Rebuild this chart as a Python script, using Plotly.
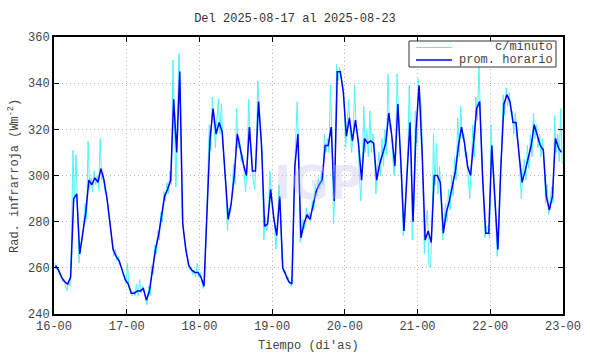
import plotly.graph_objects as go

# ---------------- data ----------------
title_text = "Del 2025-08-17 al 2025-08-23"
x_title = "Tiempo (di'as)"
y_title = "Rad. infrarroja (Wm<sup>-2</sup>)"
x_tick_hours = [0, 24, 48, 72, 96, 120, 144, 168]
x_tick_labels = ["16-00", "17-00", "18-00", "19-00", "20-00", "21-00", "22-00", "23-00"]
y_ticks = [240, 260, 280, 300, 320, 340, 360]

# hourly average (one value per hour, starting 2025-08-16 00:00)
hourly = [
    261, 259, 256, 254, 253, 256, 290, 292, 266, 274,
    284, 298, 296, 299, 297, 303, 298, 290, 279, 268,
    265, 263, 259, 255, 253, 249, 249, 250, 250, 251,
    246, 250, 259, 268, 274, 282, 291, 294, 298, 333,
    310, 345, 279, 268, 261, 259, 258, 258, 256, 252,
    288, 316, 329, 318, 323, 319, 300, 281, 288, 300,
    318, 311, 305, 300, 321, 302, 302, 332, 313, 278,
    279, 294, 282, 274, 291, 260, 257, 254, 253, 304,
    318, 273, 279, 283, 281, 287, 293, 296, 298, 313,
    313, 321, 289, 345, 345, 336, 317, 325, 315, 324,
    314, 298, 316, 314, 315, 314, 298, 305, 310, 314,
    327, 317, 304, 331, 305, 276, 300, 323, 280, 320,
    339, 310, 272, 276, 271, 300, 300, 297, 275, 284,
    289, 295, 302, 313, 321, 314, 304, 300, 313, 329,
    332, 298, 275, 275, 313, 288, 268, 304, 331, 335,
    332, 323, 323, 309, 297, 302, 308, 313, 322, 317,
    313, 311, 291, 285, 291, 316, 312, 310,
]

# per-minute series, read as two samples per hour
minute = [
    262, 259, 260, 257, 257, 254, 255, 252, 250, 254,
    252, 270, 311, 289, 309, 287, 262, 270, 272, 278,
    288, 281, 315, 294, 299, 293, 302, 296, 300, 294,
    316, 298, 301, 293, 292, 287, 281, 276, 270, 265,
    268, 263, 265, 261, 261, 257, 256, 253, 262, 251,
    251, 248, 250, 248, 253, 248, 255, 249, 252, 249,
    247, 244, 252, 248, 261, 257, 270, 266, 276, 272,
    284, 280, 293, 289, 297, 292, 302, 296, 350, 318,
    295, 326, 353, 335, 283, 276, 270, 266, 262, 259,
    260, 257, 259, 256, 262, 256, 258, 255, 251, 254,
    275, 300, 322, 311, 334, 324, 312, 324, 333, 318,
    331, 314, 306, 295, 276, 286, 284, 292, 305, 296,
    329, 312, 316, 306, 309, 301, 293, 304, 333, 316,
    306, 298, 294, 310, 341, 328, 318, 308, 272, 282,
    276, 283, 302, 290, 286, 279, 268, 278, 296, 287,
    263, 258, 259, 255, 256, 253, 252, 256, 296, 312,
    332, 313, 271, 276, 281, 277, 286, 281, 284, 280,
    289, 285, 296, 291, 299, 294, 302, 296, 318, 310,
    316, 310, 339, 318, 279, 294, 348, 341, 347, 342,
    340, 332, 312, 322, 333, 320, 310, 319, 339, 319,
    318, 302, 289, 304, 330, 310, 320, 308, 328, 310,
    318, 309, 292, 303, 310, 300, 316, 304, 320, 309,
    344, 320, 322, 309, 300, 310, 344, 324, 312, 298,
    274, 281, 296, 308, 339, 316, 272, 286, 328, 314,
    342, 334, 330, 300, 266, 280, 285, 261, 260, 276,
    318, 296, 314, 292, 304, 290, 272, 280, 288, 280,
    294, 285, 300, 291, 308, 298, 325, 308, 330, 316,
    318, 308, 310, 298, 290, 306, 322, 308, 334, 324,
    348, 326, 305, 290, 273, 278, 277, 273, 322, 306,
    295, 282, 265, 272, 298, 312, 335, 326, 338, 330,
    336, 328, 328, 318, 327, 316, 314, 302, 290, 302,
    307, 298, 313, 303, 318, 308, 327, 316, 322, 312,
    318, 308, 316, 306, 288, 296, 283, 289, 295, 288,
    326, 310, 318, 306, 329, 305,
]

hourly_t = [i + 0.5 for i in range(len(hourly))]
minute_t = [i * 0.5 + 0.25 for i in range(len(minute))]

FONT = "Liberation Mono, Courier New, monospace"
TXT = "#444444"
CYAN = "#4ef4fb"
W, H = 590, 354
L, R, T, B = 54, 563, 37, 314


def px(x):
    return (x - L) / (R - L)


def py(y):
    return (B - y) / (B - T)


fig = go.Figure()
fig.add_trace(go.Scatter(x=minute_t, y=minute, mode="lines", name="c/minuto",
                         line=dict(color=CYAN, width=1), showlegend=False))
fig.add_trace(go.Scatter(x=hourly_t, y=hourly, mode="lines", name="prom. horario",
                         line=dict(color="#0000ff", width=1.5), showlegend=False))

axis_common = dict(showline=True, linecolor="black", linewidth=2, mirror="ticks",
                   ticks="inside", ticklen=5, tickcolor="black", tickwidth=1,
                   showgrid=True, gridcolor="#b8b8b8", griddash="1px,3px", gridwidth=1,
                   zeroline=False, automargin=False,
                   tickfont=dict(family=FONT, size=12, color=TXT))

fig.update_xaxes(range=[0, 168], tickvals=x_tick_hours, ticktext=x_tick_labels, **axis_common)
fig.update_yaxes(range=[240, 360], tickvals=y_ticks, **axis_common)

# legend drawn manually (right-aligned labels)
shapes = [
    dict(type="rect", xref="paper", yref="paper",
         x0=px(409), x1=px(556), y0=py(67), y1=py(41),
         line=dict(color="#333333", width=1), fillcolor="white", layer="above"),
    dict(type="line", xref="paper", yref="paper",
         x0=px(416), x1=px(452), y0=py(47.5), y1=py(47.5),
         line=dict(color=CYAN, width=1.2), layer="above"),
    dict(type="line", xref="paper", yref="paper",
         x0=px(416), x1=px(452), y0=py(60), y1=py(60),
         line=dict(color="#0000ff", width=1.5), layer="above"),
]
annotations = [
    dict(text="c/minuto", xref="paper", yref="paper", x=px(555), y=py(47.5),
         xanchor="right", yanchor="middle", showarrow=False,
         font=dict(family=FONT, size=12, color=TXT)),
    dict(text="prom. horario", xref="paper", yref="paper", x=px(555), y=py(60),
         xanchor="right", yanchor="middle", showarrow=False,
         font=dict(family=FONT, size=12, color=TXT)),
    dict(text=x_title, xref="paper", yref="paper", x=px(308), y=py(346),
         xanchor="center", yanchor="middle", showarrow=False,
         font=dict(family=FONT, size=12, color=TXT)),
    dict(text=y_title, xref="paper", yref="paper", x=px(14), y=py(176),
         xanchor="center", yanchor="middle", showarrow=False, textangle=-90,
         font=dict(family=FONT, size=12, color=TXT)),
    dict(text="<b>IGP</b>", xref="paper", yref="paper", x=px(318), y=py(183),
         xanchor="center", yanchor="middle", showarrow=False,
         font=dict(family="DejaVu Sans", size=46, color="rgba(190,190,235,0.35)")),
]

fig.update_layout(
    width=W, height=H,
    margin=dict(l=L, r=W - R, t=T, b=H - B, autoexpand=False),
    paper_bgcolor="white", plot_bgcolor="white",
    title=dict(text=title_text, x=0.5, xanchor="center", y=1 - 18 / H, yanchor="middle",
               font=dict(family=FONT, size=12, color="#333333")),
    shapes=shapes, annotations=annotations,
)

fig.write_html("out.html", config={"displayModeBar": False},
               post_script="document.body.style.margin='0px';document.body.style.overflow='hidden';")
